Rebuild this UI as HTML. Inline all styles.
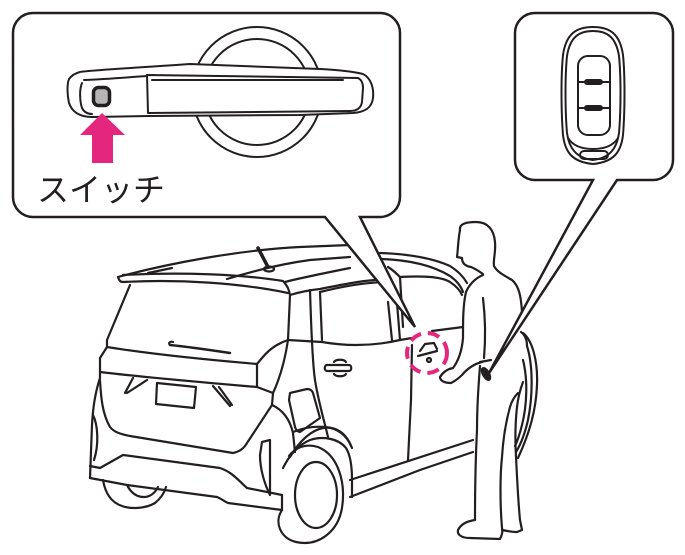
<!DOCTYPE html>
<html><head><meta charset="utf-8">
<style>
html,body{margin:0;padding:0;background:#fff;}
svg{display:block;}
</style></head>
<body>
<svg width="685" height="555" viewBox="0 0 685 555" xmlns="http://www.w3.org/2000/svg">
<g fill="none" stroke="#231f20" stroke-width="2.2" stroke-linecap="round" stroke-linejoin="round">
<!-- ===== CAR ===== -->
<path d="M118,277 C170,263 240,250 300,247 L350,245"/>
<path d="M118,277 C119,280 120,282 123,282 C180,279 240,283 288,293"/>
<path d="M123,275 C180,272 240,274 283,281 C287,285 289,289 290,295"/>
<path d="M148,273 L172,268"/>
<path d="M227,279 C250,272 280,264 310,260 L350,257"/>
<path d="M285,282 C300,278 320,274 350,268"/>
<path d="M290,295 C300,292 310,290 320,289 C340,285 360,281 375,280"/>
<path d="M380,253 C410,254 432,258 450,266 C458,271 463,276 467,283"/>
<path d="M382,259 C410,260 432,265 450,276 C457,281 461,286 463,292"/>
<path d="M388,267 C393,270 397,274 400,277 C420,276 440,276 450,282 C456,286 460,290 462,295"/>
<path d="M400,277 L403,327"/>
<path d="M258,248 L268,267" stroke-width="3.5"/>
<ellipse cx="269" cy="269" rx="5" ry="2.5"/>
<path d="M130,285 L107,340 L107,347 C150,354 210,360 257,364 C262,358 268,350 277,345 C282,342 285,341 288,340"/>
<path d="M290,295 L288,340"/>
<path d="M170,345 C190,347 210,350 230,353" stroke-width="2.5"/>
<path d="M170,345 C168,343 170,341 173,342"/>
<path d="M257,364 L257,387"/>
<path d="M100,372 C150,378 210,383 257,387 L273,393"/>
<path d="M288,340 C285,360 280,378 273,393 L272,405 L245,446 C242,450 238,452 233,453 L130,436 C120,434 114,432 110,427 C103,415 101,400 100,380"/>
<path d="M157,383 L196,387 L194,408 L156,404 Z"/>
<path d="M125,393 L133,378 M127,393 L147,380"/>
<path d="M213,386 L230,406 M219,387 L232,405"/>
<path d="M107,347 L100,358 L100,378 C96,390 93,405 92,425 L90,478"/>
<path d="M93,415 C98,425 99,445 94,460"/>
<path d="M90,466 L100,468 L123,455 L220,468 C232,472 238,480 247,488 L282,495"/>
<path d="M90,478 L127,485 L217,497 C222,499 225,502 228,503 L282,510 L282,495"/>
<path d="M103,480 C105,492 110,502 122,506 C130,509 145,509 155,503 C160,499 164,494 166,487"/>
<path d="M127,485 C131,493 137,497 144,497 C150,497 155,493 158,487"/>
<path d="M272,405 C283,410 290,420 293,433 L295,452"/>
<path d="M262,442 L270,440 L270,495 C265,485 260,470 260,455 Z"/>
<path d="M290,393 L307,389 C310,389 312,390 313,393 L320,418 L300,432 C298,432 296,430 295,427 L289,400 Z"/>
<path d="M310,290 C311,320 312,360 315,380 C318,400 324,420 328,437"/>
<path d="M283,468 C288,458 296,446 310,440 C322,436 338,438 346,448 C351,456 352,468 352,480 L352,497"/>
<path d="M290,457 C300,440 312,430 323,428 C335,426 346,432 352,448"/>
<path d="M293,432 C303,428 315,426 325,427 C338,428 347,436 351,446"/>
<path d="M282,510 C274,522 280,538 296,542 C318,547 338,532 342,508 C346,482 338,455 318,447 C305,443 295,448 289,456"/>
<ellipse cx="316" cy="495" rx="21" ry="33"/>
<path d="M350,480 L473,440"/>
<path d="M350,497 L420,470 L473,452"/>
<path d="M288,340 L322,342 C345,346 370,347 400,340 L412,338"/>
<path d="M320,292 L322,340"/>
<path d="M320,292 C340,287 360,283 383,282"/>
<path d="M388,302 L392,340 M397,303 L400,340"/>
<path d="M412,345 L411,400 L408,460"/>
<path d="M327,365 L349,365 C352,365 352,371 349,371 L327,371 C324,371 324,365 327,365 Z"/>
<path d="M334,362 C336,359 344,359 346,362 M334,374 C336,377 344,377 346,374"/>
<path d="M432,331 L463,327"/>
<path d="M418,356 L437,351 M420,351 L425,344 L434,343 L437,349"/>
<circle cx="429" cy="360" r="2"/>
<!-- ===== PERSON ===== -->
<path d="M460,230 C459,224 466,222 476,222 C488,222 494,230 495,242 C496,252 493,260 494,266 C497,272 505,276 512,280 C519,286 521,296 522,312" fill="#fff"/>
<path d="M460,230 C458,240 458,250 457,257 L462,258 C462,263 465,266 471,267 C476,269 480,272 483,274"/>
<path d="M483,275 C476,278 470,283 466,292 C463,305 463,320 463,338 C462,350 459,360 453,368 C448,369 443,372 440,377 C440,381 445,383 451,383 C455,381 459,378 462,375 C467,369 474,364 482,362"/>
<path d="M483,298 C485,315 486,335 484,358"/>
<path d="M480,362 L491,360"/>
<path d="M480,366 C479,380 477,400 477,430 C476,450 475,480 475,520 C468,521 461,524 458,530 C457,535 462,538 470,538 L500,539 C502,535 503,531 502,528 C500,505 500,475 502,457 C503,440 505,425 510,407 C512,400 515,396 518,393"/>
<path d="M502,530 C507,531 512,532 517,532 L522,530 L520,520 C518,500 517,475 516,457 C515,440 515,425 517,407 C518,398 520,390 523,382"/>
<path d="M523,333 C532,340 538,360 537,385 C536,410 530,432 518,458"/>
<path d="M527,346 C533,365 533,395 528,420 C525,433 521,444 516,452"/>
<path d="M523,360 C528,380 527,405 522,425 C520,433 518,440 515,446"/>
<path d="M521,332 C525,335 527,340 527,346"/>
<ellipse cx="486" cy="374" rx="3" ry="6.5" transform="rotate(-30 486 374)" fill="#231f20"/>
</g>

<!-- ===== CALLOUT 1 ===== -->
<path d="M33,13 H380 A20,20 0 0 1 400,33 V197 A20,20 0 0 1 380,217 H360 L415,327 L325,217 H33 A20,20 0 0 1 13,197 V33 A20,20 0 0 1 33,13 Z" fill="#fff" stroke="#231f20" stroke-width="2.5" stroke-linejoin="miter"/>
<g fill="none" stroke="#231f20" stroke-width="2" stroke-linecap="round" stroke-linejoin="round">
<circle cx="257" cy="92" r="65" fill="#fff"/>
<circle cx="257" cy="92" r="53"/>
<path d="M80,72 C92,70 150,67 190,64 L320,69 C340,70 355,72 363,74 C371,78 374,88 373,98 C372,107 366,112 353,113 L300,115 L150,116 L92,117 C80,117 72,112 69,103 C67,94 67,84 69,79 C72,75 76,73 80,72 Z" fill="#fff"/>
<path d="M84,80 C110,79 130,77 147,76 M82,83 C79,90 80,102 82,108 C84,112 87,114 92,114"/>
<path d="M147,75 L358,78 C362,80 363,84 363,88 L362,102 C361,108 357,111 350,111 L148,113 Z"/>
<path d="M152,80 L343,80"/>
</g>
<rect x="93.5" y="87.5" width="16" height="18" rx="5" fill="#b5b5b5" stroke="#231f20" stroke-width="3.5"/>
<path d="M102,113 L125,135 L113,135 L113,163 L92,163 L92,135 L80,135 Z" fill="#e5267e"/>
<text x="37" y="201" font-family="'Liberation Sans','Noto Sans CJK JP',sans-serif" font-size="32" fill="#231f20">スイッチ</text>

<!-- ===== CALLOUT 2 ===== -->
<path d="M535,13 H653 A20,20 0 0 1 673,33 V160 A20,20 0 0 1 653,180 H617 L489,373 L593,180 H535 A20,20 0 0 1 515,160 V33 A20,20 0 0 1 535,13 Z" fill="#fff" stroke="#231f20" stroke-width="2.5" stroke-linejoin="miter"/>
<g fill="none" stroke="#231f20" stroke-width="2" stroke-linecap="round" stroke-linejoin="round">
<path d="M593,27 C576,27 566,34 563,55 C561,75 561,110 563,135 C565,152 572,162 593,164 C614,162 621,152 623,135 C625,110 625,75 623,55 C620,34 610,27 593,27 Z"/>
<path d="M593,31 C579,31 570,37 567,56 C565,76 565,110 567,133 C569,148 576,158 593,160 C610,158 617,148 619,133 C621,110 621,76 619,56 C616,37 607,31 593,31 Z"/>
<path d="M568,138 C573,146 582,149 593,149 C604,149 613,146 618,138"/>
<rect x="578" y="56" width="32" height="79" rx="10"/>
<path d="M578,82 L610,82 M578,108 L610,108"/>
<rect x="585" y="80" width="17" height="4" rx="2"/>
<rect x="585" y="106" width="17" height="4" rx="2"/>
<rect x="580" y="151" width="28" height="8" rx="4"/>
</g>

<circle cx="427" cy="353" r="20" fill="none" stroke="#e5267e" stroke-width="4" stroke-dasharray="12 7"/>
</svg>
</body></html>
